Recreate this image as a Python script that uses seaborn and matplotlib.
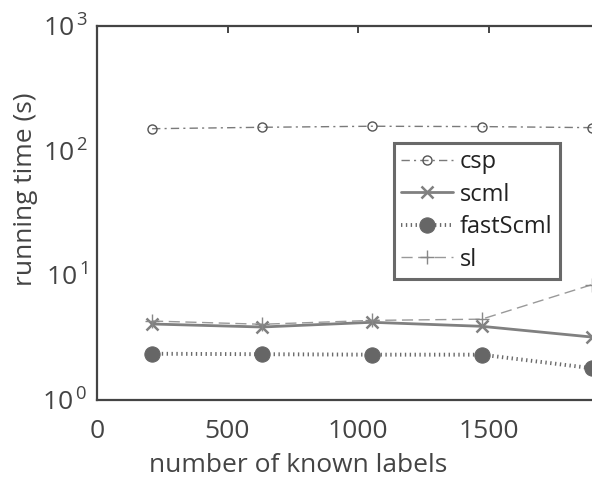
import matplotlib
matplotlib.use("Agg")
import matplotlib.pyplot as plt
import matplotlib.ticker as mticker
import seaborn as sns
import pandas as pd
import numpy as np

known_labels = [211, 632, 1053, 1474, 1895]
csp = [150, 154, 157, 156, 153]
scml = [4.07, 3.85, 4.2, 3.9, 3.2]
fastScml = [2.35, 2.33, 2.31, 2.31, 1.8]
sl = [4.3, 4.05, 4.35, 4.45, 8.4]
x_ticks = [0, 500, 1000, 1500]

sns.set_style("white")
plt.rcParams['font.family'] = ['Open Sans', 'DejaVu Sans']
plt.rcParams['mathtext.fontset'] = 'custom'
plt.rcParams['mathtext.rm'] = 'Open Sans'
plt.rcParams['mathtext.it'] = 'Open Sans'

fig = plt.figure(figsize=(5.92, 4.8), dpi=100)
xmax = 2500
px_per_unit = 130.5 / 500
ax_w = xmax * px_per_unit / 592
ax = fig.add_axes([97 / 592, 80 / 480, ax_w, 374 / 480])

df = pd.DataFrame({"x": known_labels, "csp": csp, "scml": scml,
                   "fastScml": fastScml, "sl": sl})

sns.lineplot(data=df, x="x", y="csp", ax=ax, color="#7a7a7a", lw=1.0,
             linestyle=(0, (6, 3, 1.5, 3)), marker="o", markersize=6.5,
             markerfacecolor="none", markeredgecolor="#555555",
             markeredgewidth=1.0, label="csp")
sns.lineplot(data=df, x="x", y="scml", ax=ax, color="#808080", lw=2.0,
             linestyle="-", marker="x", markersize=9, markeredgewidth=1.8,
             markeredgecolor="#808080", label="scml")
sns.lineplot(data=df, x="x", y="fastScml", ax=ax, color="#6a6a6a", lw=2.8,
             linestyle=(0, (0.35, 0.9)), marker="o", markersize=11,
             markerfacecolor="#666666", markeredgecolor="#666666",
             label="fastScml")
sns.lineplot(data=df, x="x", y="sl", ax=ax, color="#999999", lw=1.0,
             linestyle=(0, (8, 4)), marker="+", markersize=10,
             markeredgewidth=1.0, markeredgecolor="#888888", label="sl")

ax.set_yscale("log")
ax.set_ylim(1, 1000)
ax.set_xlim(0, xmax)
ax.set_xticks(x_ticks)
ax.set_yticks([1, 10, 100, 1000])
ax.yaxis.set_major_formatter(mticker.FuncFormatter(
    lambda v, p: r"$\mathdefault{10}^{\mathdefault{\,%d}}$" % int(round(np.log10(v)))))

for s in ax.spines.values():
    s.set_color("#444444")
    s.set_linewidth(1.6)

ax.tick_params(axis="both", which="both", direction="in", top=True,
               right=True, color="#444444", labelcolor="#444444",
               labelsize=19)
ax.tick_params(which="major", length=5, width=1.4)
ax.tick_params(which="minor", length=3, width=1.0)
ax.tick_params(axis="x", pad=14)
ax.tick_params(axis="y", pad=7)

ax.set_xlabel("number of known labels", fontsize=19, color="#444444")
ax.set_ylabel("running time (s)", fontsize=19, color="#444444")
ax.xaxis.set_label_coords((298 - 97) / (ax_w * 592), -(466 - 400) / 374)
ax.yaxis.set_label_coords((25 - 97) / (ax_w * 592), (400 - 189) / 374)
ax.xaxis.label.set_va("center")
ax.yaxis.label.set_va("center")

leg = ax.legend(loc="upper left", bbox_to_anchor=(394 / 592, 1 - 143 / 480),
                bbox_transform=fig.transFigure, fontsize=17, frameon=True,
                fancybox=False, handlelength=2.2, handletextpad=0.3,
                borderpad=0.3, labelspacing=0.36, borderaxespad=0)
leg.get_frame().set_edgecolor("#444444")
leg.get_frame().set_linewidth(2.2)
for t in leg.get_texts():
    t.set_color("#222222")

fig.savefig("out.png", dpi=100)
